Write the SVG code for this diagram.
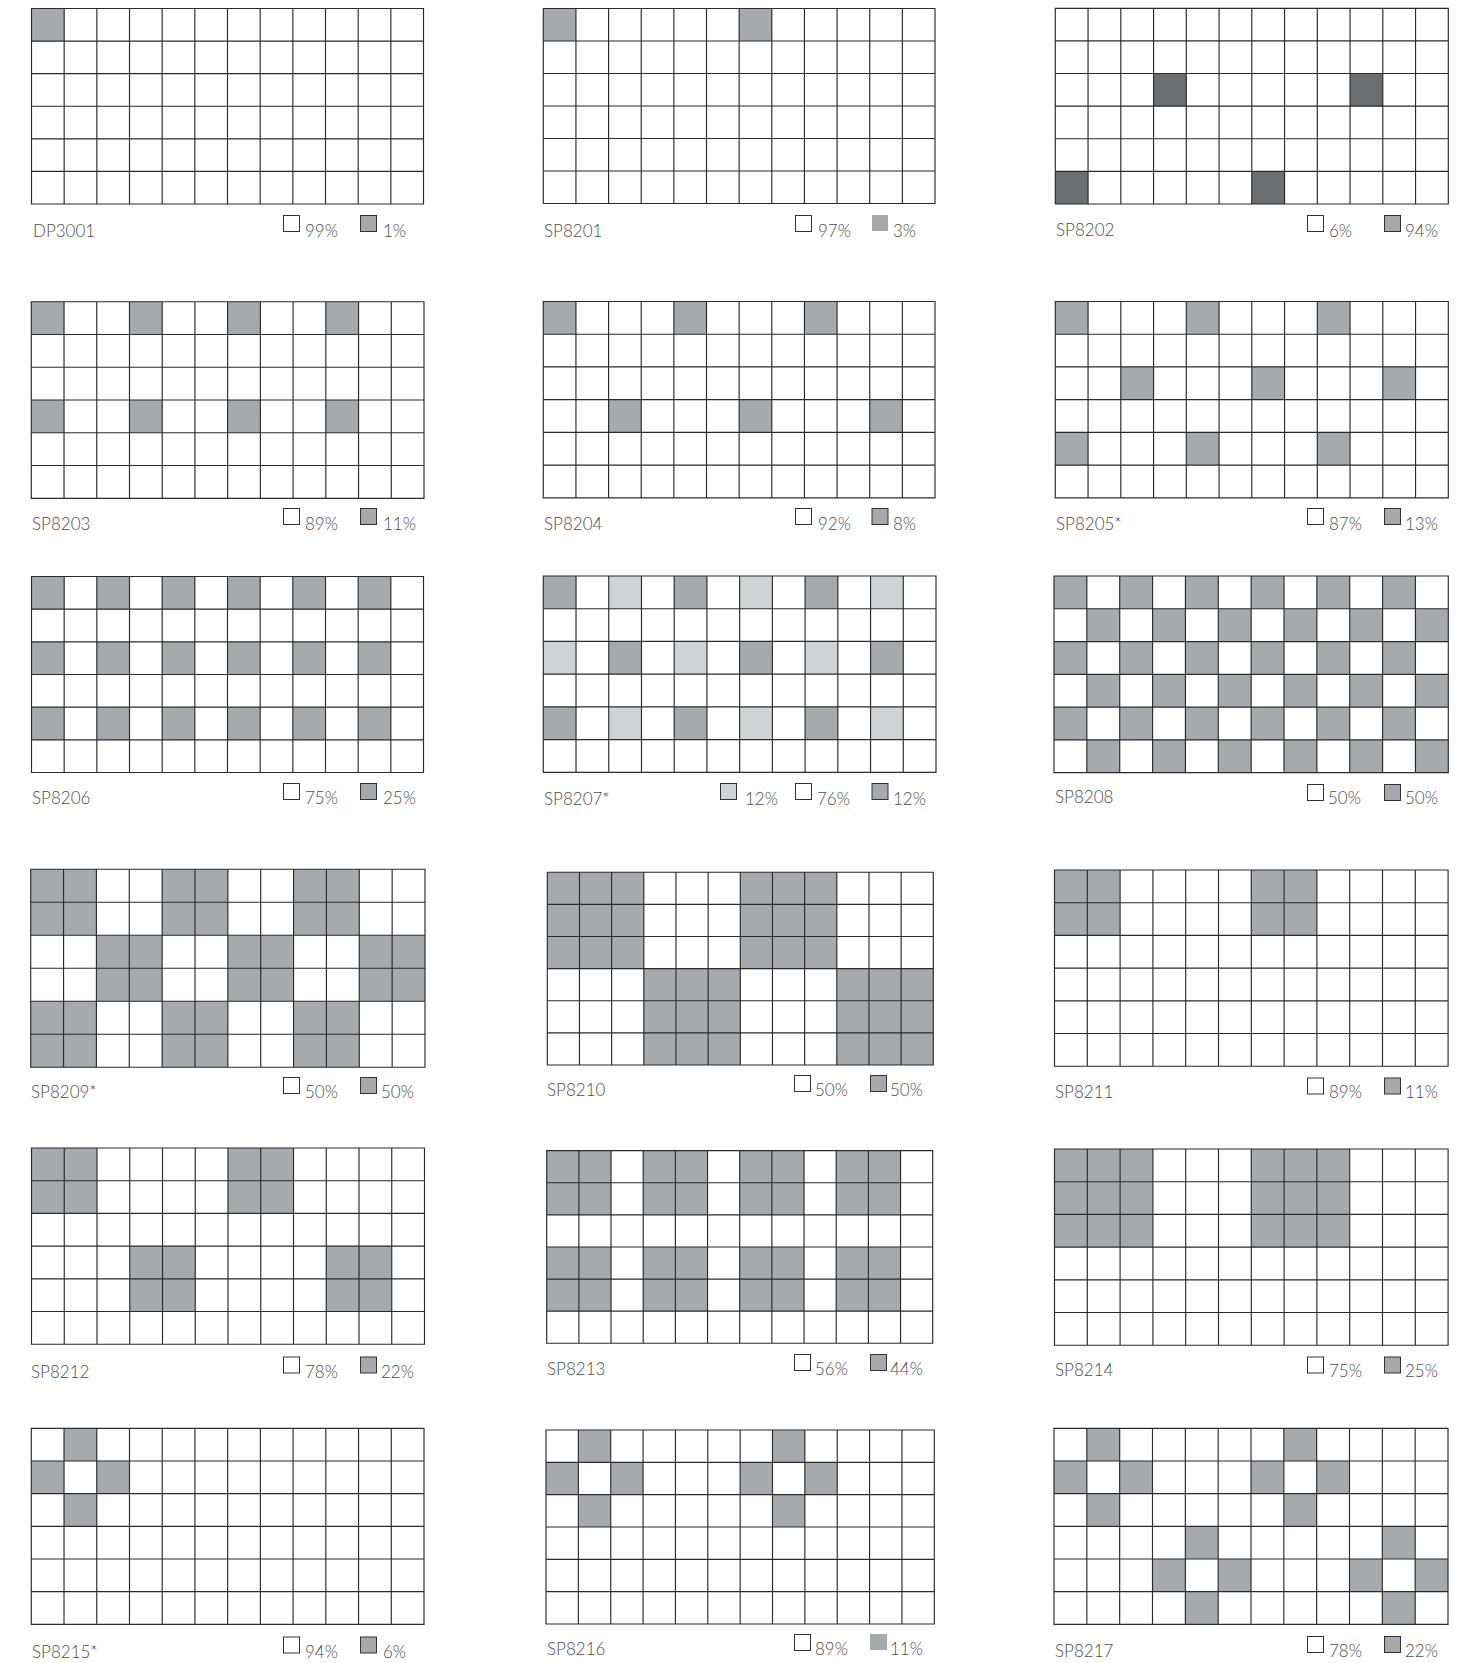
<svg xmlns="http://www.w3.org/2000/svg" xmlns:xlink="http://www.w3.org/1999/xlink" width="1480" height="1663" viewBox="0 0 1480 1663">
<style>
.m{fill:#a7a9ac}
.l{fill:#d1d3d4}
.d{fill:#6d6e71}
.bg{fill:#fff}
text{font-family:Lato,"Liberation Sans",sans-serif;font-size:17px;font-weight:300;fill:#4d4d4f}
.k{fill:#fff;stroke:#333;stroke-width:1}
.km{fill:#a7a9ac;stroke:#333;stroke-width:1}
.kl{fill:#d1d3d4;stroke:#333;stroke-width:1}
.kn{fill:#a7a9ac}
</style>
<defs>
<path id="grid" fill="none" stroke="#2b2b2b" stroke-width="1.15" vector-effect="non-scaling-stroke" d="M0 0H120V60H0ZM10 0V60M20 0V60M30 0V60M40 0V60M50 0V60M60 0V60M70 0V60M80 0V60M90 0V60M100 0V60M110 0V60M0 10H120M0 20H120M0 30H120M0 40H120M0 50H120"/>
<rect id="c" width="10" height="10"/>
</defs>
<rect width="1480" height="1663" fill="#fff"/>

<!-- Row 1 -->
<g id="DP3001">
<g transform="translate(31.5,8.5) scale(3.2667,3.2583)">
<use xlink:href="#c" class="m" x="0" y="0"/>
<use xlink:href="#grid"/>
</g>
<text x="33" y="237">DP3001</text>
<rect class="k" x="283.5" y="215.5" width="16" height="16"/><text x="305" y="237">99%</text>
<rect class="km" x="360.5" y="215.5" width="16" height="16"/><text x="383" y="237">1%</text>
</g>

<g id="SP8201">
<g transform="translate(543.3,8.5) scale(3.2642,3.25)">
<use xlink:href="#c" class="m" x="0" y="0"/>
<use xlink:href="#c" class="m" x="60" y="0"/>
<use xlink:href="#grid"/>
</g>
<text x="544" y="237">SP8201</text>
<rect class="k" x="795.5" y="215.5" width="16" height="16"/><text x="818" y="237">97%</text>
<rect class="kn" x="872" y="215" width="16" height="16"/><text x="893" y="237">3%</text>
</g>

<g id="SP8202">
<g transform="translate(1055.3,8.3) scale(3.275,3.2617)">
<use xlink:href="#c" class="d" x="30" y="20"/>
<use xlink:href="#c" class="d" x="90" y="20"/>
<use xlink:href="#c" class="d" x="0" y="50"/>
<use xlink:href="#c" class="d" x="60" y="50"/>
<use xlink:href="#grid"/>
</g>
<text x="1056" y="236">SP8202</text>
<rect class="k" x="1307.5" y="215.5" width="16" height="16"/><text x="1329" y="237">6%</text>
<rect class="km" x="1384.5" y="215.5" width="16" height="16"/><text x="1405" y="237">94%</text>
</g>

<!-- Row 2 -->
<g id="SP8203">
<g transform="translate(31.3,301.7) scale(3.2725,3.2767)">
<use xlink:href="#c" class="m" x="0" y="0"/><use xlink:href="#c" class="m" x="30" y="0"/><use xlink:href="#c" class="m" x="60" y="0"/><use xlink:href="#c" class="m" x="90" y="0"/>
<use xlink:href="#c" class="m" x="0" y="30"/><use xlink:href="#c" class="m" x="30" y="30"/><use xlink:href="#c" class="m" x="60" y="30"/><use xlink:href="#c" class="m" x="90" y="30"/>
<use xlink:href="#grid"/>
</g>
<text x="32" y="529.5">SP8203</text>
<rect class="k" x="283.5" y="508.5" width="16" height="16"/><text x="305" y="530">89%</text>
<rect class="km" x="360.5" y="508.5" width="16" height="16"/><text x="383" y="530">11%</text>
</g>

<g id="SP8204">
<g transform="translate(543.3,301.5) scale(3.2642,3.2717)">
<use xlink:href="#c" class="m" x="0" y="0"/><use xlink:href="#c" class="m" x="40" y="0"/><use xlink:href="#c" class="m" x="80" y="0"/>
<use xlink:href="#c" class="m" x="20" y="30"/><use xlink:href="#c" class="m" x="60" y="30"/><use xlink:href="#c" class="m" x="100" y="30"/>
<use xlink:href="#grid"/>
</g>
<text x="544" y="530">SP8204</text>
<rect class="k" x="795.5" y="508.5" width="16" height="16"/><text x="818" y="530">92%</text>
<rect class="km" x="872" y="508.5" width="16" height="16"/><text x="893" y="530">8%</text>
</g>

<g id="SP8205">
<g transform="translate(1055.3,301.5) scale(3.275,3.2717)">
<use xlink:href="#c" class="m" x="0" y="0"/><use xlink:href="#c" class="m" x="40" y="0"/><use xlink:href="#c" class="m" x="80" y="0"/>
<use xlink:href="#c" class="m" x="20" y="20"/><use xlink:href="#c" class="m" x="60" y="20"/><use xlink:href="#c" class="m" x="100" y="20"/>
<use xlink:href="#c" class="m" x="0" y="40"/><use xlink:href="#c" class="m" x="40" y="40"/><use xlink:href="#c" class="m" x="80" y="40"/>
<use xlink:href="#grid"/>
</g>
<text x="1056" y="530">SP8205*</text>
<rect class="k" x="1307.5" y="508.5" width="16" height="16"/><text x="1329" y="530">87%</text>
<rect class="km" x="1384.5" y="508.5" width="16" height="16"/><text x="1405" y="530">13%</text>
</g>

<!-- Row 3 -->
<g id="SP8206">
<g transform="translate(31.5,576.5) scale(3.2667,3.2667)">
<use xlink:href="#c" class="m" x="0" y="0"/><use xlink:href="#c" class="m" x="20" y="0"/><use xlink:href="#c" class="m" x="40" y="0"/><use xlink:href="#c" class="m" x="60" y="0"/><use xlink:href="#c" class="m" x="80" y="0"/><use xlink:href="#c" class="m" x="100" y="0"/>
<use xlink:href="#c" class="m" x="0" y="20"/><use xlink:href="#c" class="m" x="20" y="20"/><use xlink:href="#c" class="m" x="40" y="20"/><use xlink:href="#c" class="m" x="60" y="20"/><use xlink:href="#c" class="m" x="80" y="20"/><use xlink:href="#c" class="m" x="100" y="20"/>
<use xlink:href="#c" class="m" x="0" y="40"/><use xlink:href="#c" class="m" x="20" y="40"/><use xlink:href="#c" class="m" x="40" y="40"/><use xlink:href="#c" class="m" x="60" y="40"/><use xlink:href="#c" class="m" x="80" y="40"/><use xlink:href="#c" class="m" x="100" y="40"/>
<use xlink:href="#grid"/>
</g>
<text x="32" y="804">SP8206</text>
<rect class="k" x="283.5" y="783.5" width="16" height="16"/><text x="305" y="804">75%</text>
<rect class="km" x="360.5" y="783.5" width="16" height="16"/><text x="383" y="804">25%</text>
</g>

<g id="SP8207">
<g transform="translate(543.3,576) scale(3.2725,3.2717)">
<use xlink:href="#c" class="m" x="0" y="0"/><use xlink:href="#c" class="m" x="40" y="0"/><use xlink:href="#c" class="m" x="80" y="0"/>
<use xlink:href="#c" class="l" x="20" y="0"/><use xlink:href="#c" class="l" x="60" y="0"/><use xlink:href="#c" class="l" x="100" y="0"/>
<use xlink:href="#c" class="l" x="0" y="20"/><use xlink:href="#c" class="l" x="40" y="20"/><use xlink:href="#c" class="l" x="80" y="20"/>
<use xlink:href="#c" class="m" x="20" y="20"/><use xlink:href="#c" class="m" x="60" y="20"/><use xlink:href="#c" class="m" x="100" y="20"/>
<use xlink:href="#c" class="m" x="0" y="40"/><use xlink:href="#c" class="m" x="40" y="40"/><use xlink:href="#c" class="m" x="80" y="40"/>
<use xlink:href="#c" class="l" x="20" y="40"/><use xlink:href="#c" class="l" x="60" y="40"/><use xlink:href="#c" class="l" x="100" y="40"/>
<use xlink:href="#grid"/>
</g>
<text x="544" y="805">SP8207*</text>
<rect class="kl" x="720.5" y="783.5" width="16" height="16"/><text x="745" y="805">12%</text>
<rect class="k" x="795.5" y="783.5" width="16" height="16"/><text x="817" y="805">76%</text>
<rect class="km" x="872" y="783.5" width="16" height="16"/><text x="893" y="805">12%</text>
</g>

<g id="SP8208">
<g transform="translate(1054,576) scale(3.2858,3.2783)">
<use xlink:href="#c" class="m" x="0" y="0"/><use xlink:href="#c" class="m" x="20" y="0"/><use xlink:href="#c" class="m" x="40" y="0"/><use xlink:href="#c" class="m" x="60" y="0"/><use xlink:href="#c" class="m" x="80" y="0"/><use xlink:href="#c" class="m" x="100" y="0"/>
<use xlink:href="#c" class="m" x="10" y="10"/><use xlink:href="#c" class="m" x="30" y="10"/><use xlink:href="#c" class="m" x="50" y="10"/><use xlink:href="#c" class="m" x="70" y="10"/><use xlink:href="#c" class="m" x="90" y="10"/><use xlink:href="#c" class="m" x="110" y="10"/>
<use xlink:href="#c" class="m" x="0" y="20"/><use xlink:href="#c" class="m" x="20" y="20"/><use xlink:href="#c" class="m" x="40" y="20"/><use xlink:href="#c" class="m" x="60" y="20"/><use xlink:href="#c" class="m" x="80" y="20"/><use xlink:href="#c" class="m" x="100" y="20"/>
<use xlink:href="#c" class="m" x="10" y="30"/><use xlink:href="#c" class="m" x="30" y="30"/><use xlink:href="#c" class="m" x="50" y="30"/><use xlink:href="#c" class="m" x="70" y="30"/><use xlink:href="#c" class="m" x="90" y="30"/><use xlink:href="#c" class="m" x="110" y="30"/>
<use xlink:href="#c" class="m" x="0" y="40"/><use xlink:href="#c" class="m" x="20" y="40"/><use xlink:href="#c" class="m" x="40" y="40"/><use xlink:href="#c" class="m" x="60" y="40"/><use xlink:href="#c" class="m" x="80" y="40"/><use xlink:href="#c" class="m" x="100" y="40"/>
<use xlink:href="#c" class="m" x="10" y="50"/><use xlink:href="#c" class="m" x="30" y="50"/><use xlink:href="#c" class="m" x="50" y="50"/><use xlink:href="#c" class="m" x="70" y="50"/><use xlink:href="#c" class="m" x="90" y="50"/><use xlink:href="#c" class="m" x="110" y="50"/>
<use xlink:href="#grid"/>
</g>
<text x="1055" y="803">SP8208</text>
<rect class="k" x="1307.5" y="784.5" width="16" height="16"/><text x="1328" y="804">50%</text>
<rect class="km" x="1384.5" y="784.5" width="16" height="16"/><text x="1405" y="804">50%</text>
</g>

<!-- Row 4 -->
<g id="SP8209">
<g transform="translate(30.7,869.3) scale(3.2858,3.3)">
<rect class="m" x="0" y="0" width="20" height="20"/><rect class="m" x="40" y="0" width="20" height="20"/><rect class="m" x="80" y="0" width="20" height="20"/>
<rect class="m" x="20" y="20" width="20" height="20"/><rect class="m" x="60" y="20" width="20" height="20"/><rect class="m" x="100" y="20" width="20" height="20"/>
<rect class="m" x="0" y="40" width="20" height="20"/><rect class="m" x="40" y="40" width="20" height="20"/><rect class="m" x="80" y="40" width="20" height="20"/>
<use xlink:href="#grid"/>
</g>
<text x="31" y="1098">SP8209*</text>
<rect class="k" x="283.5" y="1077.5" width="16" height="16"/><text x="305" y="1098">50%</text>
<rect class="km" x="360.5" y="1077.5" width="16" height="16"/><text x="381" y="1098">50%</text>
</g>

<g id="SP8210">
<g transform="translate(547.3,872.3) scale(3.2167,3.2117)">
<rect class="m" x="0" y="0" width="30" height="30"/><rect class="m" x="60" y="0" width="30" height="30"/>
<rect class="m" x="30" y="30" width="30" height="30"/><rect class="m" x="90" y="30" width="30" height="30"/>
<use xlink:href="#grid"/>
</g>
<text x="547" y="1096">SP8210</text>
<rect class="k" x="794.5" y="1075.5" width="16" height="16"/><text x="815" y="1096">50%</text>
<rect class="km" x="870.5" y="1075.5" width="16" height="16"/><text x="890" y="1096">50%</text>
</g>

<g id="SP8211">
<g transform="translate(1054.5,870) scale(3.28,3.27)">
<rect class="m" x="0" y="0" width="20" height="20"/><rect class="m" x="60" y="0" width="20" height="20"/>
<use xlink:href="#grid"/>
</g>
<text x="1055" y="1098">SP8211</text>
<rect class="k" x="1307.5" y="1078" width="16" height="16"/><text x="1329" y="1098">89%</text>
<rect class="km" x="1384.5" y="1078" width="16" height="16"/><text x="1405" y="1098">11%</text>
</g>

<!-- Row 5 -->
<g id="SP8212">
<g transform="translate(31.5,1148) scale(3.275,3.27)">
<rect class="m" x="0" y="0" width="20" height="20"/><rect class="m" x="60" y="0" width="20" height="20"/>
<rect class="m" x="30" y="30" width="20" height="20"/><rect class="m" x="90" y="30" width="20" height="20"/>
<use xlink:href="#grid"/>
</g>
<text x="31" y="1378">SP8212</text>
<rect class="k" x="283.5" y="1357" width="16" height="16"/><text x="305" y="1378">78%</text>
<rect class="km" x="360.5" y="1357" width="16" height="16"/><text x="381" y="1378">22%</text>
</g>

<g id="SP8213">
<g transform="translate(546.7,1150.7) scale(3.2167,3.21)">
<rect class="m" x="0" y="0" width="20" height="20"/><rect class="m" x="30" y="0" width="20" height="20"/><rect class="m" x="60" y="0" width="20" height="20"/><rect class="m" x="90" y="0" width="20" height="20"/>
<rect class="m" x="0" y="30" width="20" height="20"/><rect class="m" x="30" y="30" width="20" height="20"/><rect class="m" x="60" y="30" width="20" height="20"/><rect class="m" x="90" y="30" width="20" height="20"/>
<use xlink:href="#grid"/>
</g>
<text x="547" y="1375">SP8213</text>
<rect class="k" x="794.5" y="1354.5" width="16" height="16"/><text x="815" y="1375">56%</text>
<rect class="km" x="870.5" y="1354.5" width="16" height="16"/><text x="890" y="1375">44%</text>
</g>

<g id="SP8214">
<g transform="translate(1054.5,1149) scale(3.28,3.27)">
<rect class="m" x="0" y="0" width="30" height="30"/><rect class="m" x="60" y="0" width="30" height="30"/>
<use xlink:href="#grid"/>
</g>
<text x="1055" y="1376">SP8214</text>
<rect class="k" x="1307.5" y="1357" width="16" height="16"/><text x="1329" y="1377">75%</text>
<rect class="km" x="1384.5" y="1357" width="16" height="16"/><text x="1405" y="1377">25%</text>
</g>

<!-- Row 6 -->
<g id="SP8215">
<g transform="translate(31.3,1428.3) scale(3.2725,3.2667)">
<use xlink:href="#c" class="m" x="10" y="0"/><use xlink:href="#c" class="m" x="0" y="10"/><use xlink:href="#c" class="m" x="20" y="10"/><use xlink:href="#c" class="m" x="10" y="20"/>
<use xlink:href="#grid"/>
</g>
<text x="32" y="1658">SP8215*</text>
<rect class="k" x="283.5" y="1637" width="16" height="16"/><text x="305" y="1658">94%</text>
<rect class="km" x="360.5" y="1637" width="16" height="16"/><text x="383" y="1658">6%</text>
</g>

<g id="SP8216">
<g transform="translate(546,1430) scale(3.2358,3.2333)">
<use xlink:href="#c" class="m" x="10" y="0"/><use xlink:href="#c" class="m" x="70" y="0"/>
<use xlink:href="#c" class="m" x="0" y="10"/><use xlink:href="#c" class="m" x="20" y="10"/><use xlink:href="#c" class="m" x="60" y="10"/><use xlink:href="#c" class="m" x="80" y="10"/>
<use xlink:href="#c" class="m" x="10" y="20"/><use xlink:href="#c" class="m" x="70" y="20"/>
<use xlink:href="#grid"/>
</g>
<text x="547" y="1655">SP8216</text>
<rect class="k" x="794.5" y="1634.5" width="16" height="16"/><text x="815" y="1655">89%</text>
<rect class="kn" x="870" y="1634" width="17" height="16"/><text x="890" y="1655">11%</text>
</g>

<g id="SP8217">
<g transform="translate(1054,1428.3) scale(3.2833,3.2667)">
<use xlink:href="#c" class="m" x="10" y="0"/><use xlink:href="#c" class="m" x="70" y="0"/>
<use xlink:href="#c" class="m" x="0" y="10"/><use xlink:href="#c" class="m" x="20" y="10"/><use xlink:href="#c" class="m" x="60" y="10"/><use xlink:href="#c" class="m" x="80" y="10"/>
<use xlink:href="#c" class="m" x="10" y="20"/><use xlink:href="#c" class="m" x="70" y="20"/>
<use xlink:href="#c" class="m" x="40" y="30"/><use xlink:href="#c" class="m" x="100" y="30"/>
<use xlink:href="#c" class="m" x="30" y="40"/><use xlink:href="#c" class="m" x="50" y="40"/><use xlink:href="#c" class="m" x="90" y="40"/><use xlink:href="#c" class="m" x="110" y="40"/>
<use xlink:href="#c" class="m" x="40" y="50"/><use xlink:href="#c" class="m" x="100" y="50"/>
<use xlink:href="#grid"/>
</g>
<text x="1055" y="1657">SP8217</text>
<rect class="k" x="1307.5" y="1636.5" width="16" height="16"/><text x="1329" y="1657">78%</text>
<rect class="km" x="1384.5" y="1636.5" width="16" height="16"/><text x="1405" y="1657">22%</text>
</g>
</svg>
